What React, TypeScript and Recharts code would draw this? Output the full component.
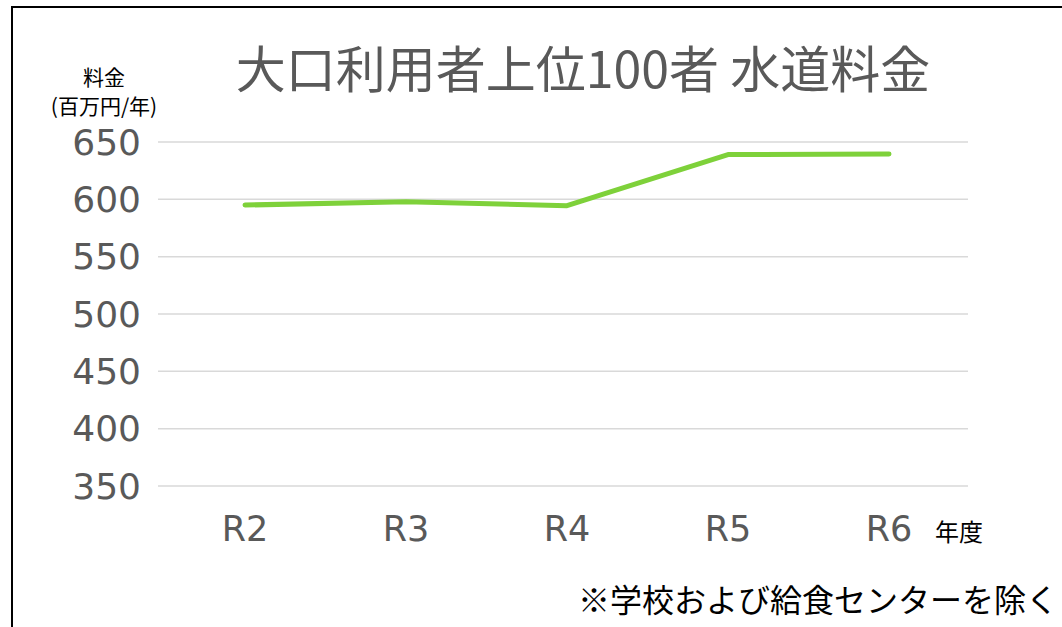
import React from "react";
import { LineChart, Line, XAxis, YAxis, CartesianGrid } from "recharts";

const categories = ["R2", "R3", "R4", "R5", "R6"];
const charges = [595, 598, 594.5, 639, 639.5];
const yTicks = [350, 400, 450, 500, 550, 600, 650];

const titleText = "大口利用者上位100者 水道料金";
const yTitleLine1 = "料金";
const yTitleLine2 = "(百万円/年)";
const xTitleText = "年度";
const noteText = "※学校および給食センターを除く";

const data = categories.map((c, i) => ({ name: c, value: charges[i] }));

const JP = '"Noto Sans CJK JP", "Noto Sans", sans-serif';
const NUM = '"DejaVu Sans", sans-serif';

const abs = (x: number, y: number, size: number, color: string, extra: React.CSSProperties = {}): React.CSSProperties => ({
  position: "absolute",
  left: x,
  top: y,
  transform: "translate(-50%, -50%)",
  fontSize: size,
  color,
  fontFamily: JP,
  whiteSpace: "nowrap",
  lineHeight: 1,
  ...extra,
});

export default function App() {
  return (
    <div
      style={{
        position: "fixed",
        left: 0,
        top: 0,
        width: 1062,
        height: 627,
        overflow: "hidden",
        background: "#ffffff",
      }}
    >
      <div
        style={{
          position: "absolute",
          left: 11,
          top: 6,
          width: 2000,
          height: 2000,
          borderLeft: "2px solid #000",
          borderTop: "2px solid #000",
        }}
      />
      <div style={{ position: "absolute", left: 0, top: 0 }}>
        <LineChart
          width={1062}
          height={627}
          data={data}
          margin={{ top: 142, right: 94, bottom: 0, left: 0 }}
        >
          <CartesianGrid vertical={false} stroke="#d9d9d9" strokeWidth={1.5} />
          <XAxis
            dataKey="name"
            axisLine={false}
            tickLine={false}
            height={141}
            padding={{ left: 87, right: 79 }}
            tickMargin={24}
            tick={{ fill: "#595959", fontSize: 35, fontFamily: NUM }}
            interval={0}
          />
          <YAxis
            domain={[350, 650]}
            ticks={yTicks}
            axisLine={false}
            tickLine={false}
            width={158}
            tickMargin={11}
            tick={{ fill: "#595959", fontSize: 36, fontFamily: NUM }}
            interval={0}
          />
          <Line
            type="linear"
            dataKey="value"
            stroke="#7ed13a"
            strokeWidth={5}
            strokeLinecap="round"
            strokeLinejoin="round"
            dot={false}
            activeDot={false}
            isAnimationActive={false}
          />
        </LineChart>
      </div>
      <div style={abs(583, 66, 50, "#595959")}>{titleText}</div>
      <div style={abs(104, 76, 21, "#000")}>{yTitleLine1}</div>
      <div style={abs(104, 105, 21, "#000")}>{yTitleLine2}</div>
      <div style={abs(959, 531, 24, "#000")}>{xTitleText}</div>
      <div style={abs(818, 598, 32, "#000")}>{noteText}</div>
    </div>
  );
}
